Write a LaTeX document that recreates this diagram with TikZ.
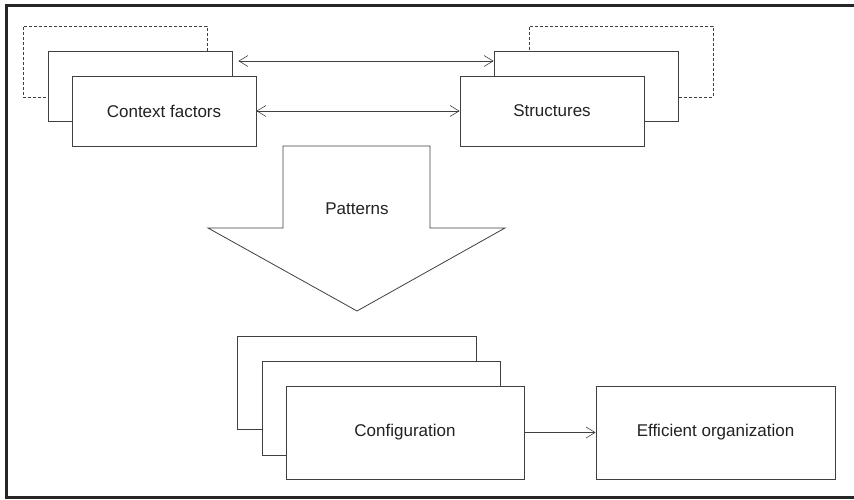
\documentclass[tikz,border=0pt]{standalone}
\usepackage{fontspec}
\setmainfont{Liberation Sans}
\usetikzlibrary{arrows.meta}
\definecolor{linec}{HTML}{404040}
\definecolor{textc}{HTML}{222222}
\begin{document}
\begin{tikzpicture}[x=1pt,y=-1pt,
  box/.style={draw=linec, line width=0.8pt, fill=white, inner sep=0pt, text=textc,
    font=\fontsize{17}{20}\selectfont},
  dbox/.style={box, dashed, dash pattern=on 3pt off 2pt},
  conn/.style={draw=linec, line width=0.6pt, {Straight Barb[length=9pt,width=11pt]}-{Straight Barb[length=9pt,width=11pt]}},
  conn1/.style={draw=linec, line width=0.6pt, -{Straight Barb[length=9pt,width=11pt]}},
  frame/.style={draw=black!85, line width=3pt}]
\useasboundingbox (0,0) rectangle (854,499);
\draw[frame] (858,5) -- (6,5) -- (6,497) -- (858,497);
% Context factors group
\node[dbox, minimum width=184pt, minimum height=71pt] (ctxdash) at (115,61.5) {};
\node[box, minimum width=184pt, minimum height=70pt] (ctxmid) at (140,86) {};
\node[box, minimum width=184pt, minimum height=70pt] (ctx) at (164,111) {Context factors};
% Structures group
\node[dbox, minimum width=184pt, minimum height=71pt] (strdash) at (621,61.5) {};
\node[box, minimum width=184pt, minimum height=70pt] (strmid) at (586,86) {};
\node[box, minimum width=184pt, minimum height=70pt] (str) at (552,111) {Structures};
% connectors
\draw[conn, shorten <=6pt] (ctxmid.east |- 0,61) -- (strmid.west |- 0,61);
\draw[conn] (ctx.east) -- (str.west);
% big arrow
\draw[draw=linec, line width=0.8pt, fill=white]
  (283,146) -- (430,146) -- (430,228) -- (505,228) -- (357,311) -- (208,228) -- (283,228) -- cycle;
\node[text=textc, font=\fontsize{17}{20}\selectfont] (patterns) at (357,209) {Patterns};
% Configuration group
\node[box, minimum width=239pt, minimum height=93pt] (cfgback) at (356.5,382.5) {};
\node[box, minimum width=238pt, minimum height=94pt] (cfgmid) at (381,408) {};
\node[box, minimum width=238pt, minimum height=93pt] (cfg) at (405,432.5) {Configuration};
\node[box, minimum width=239pt, minimum height=93pt] (eff) at (715.5,432.5) {Efficient organization};
\draw[conn1] (cfg.east) -- (eff.west);
\end{tikzpicture}
\end{document}
